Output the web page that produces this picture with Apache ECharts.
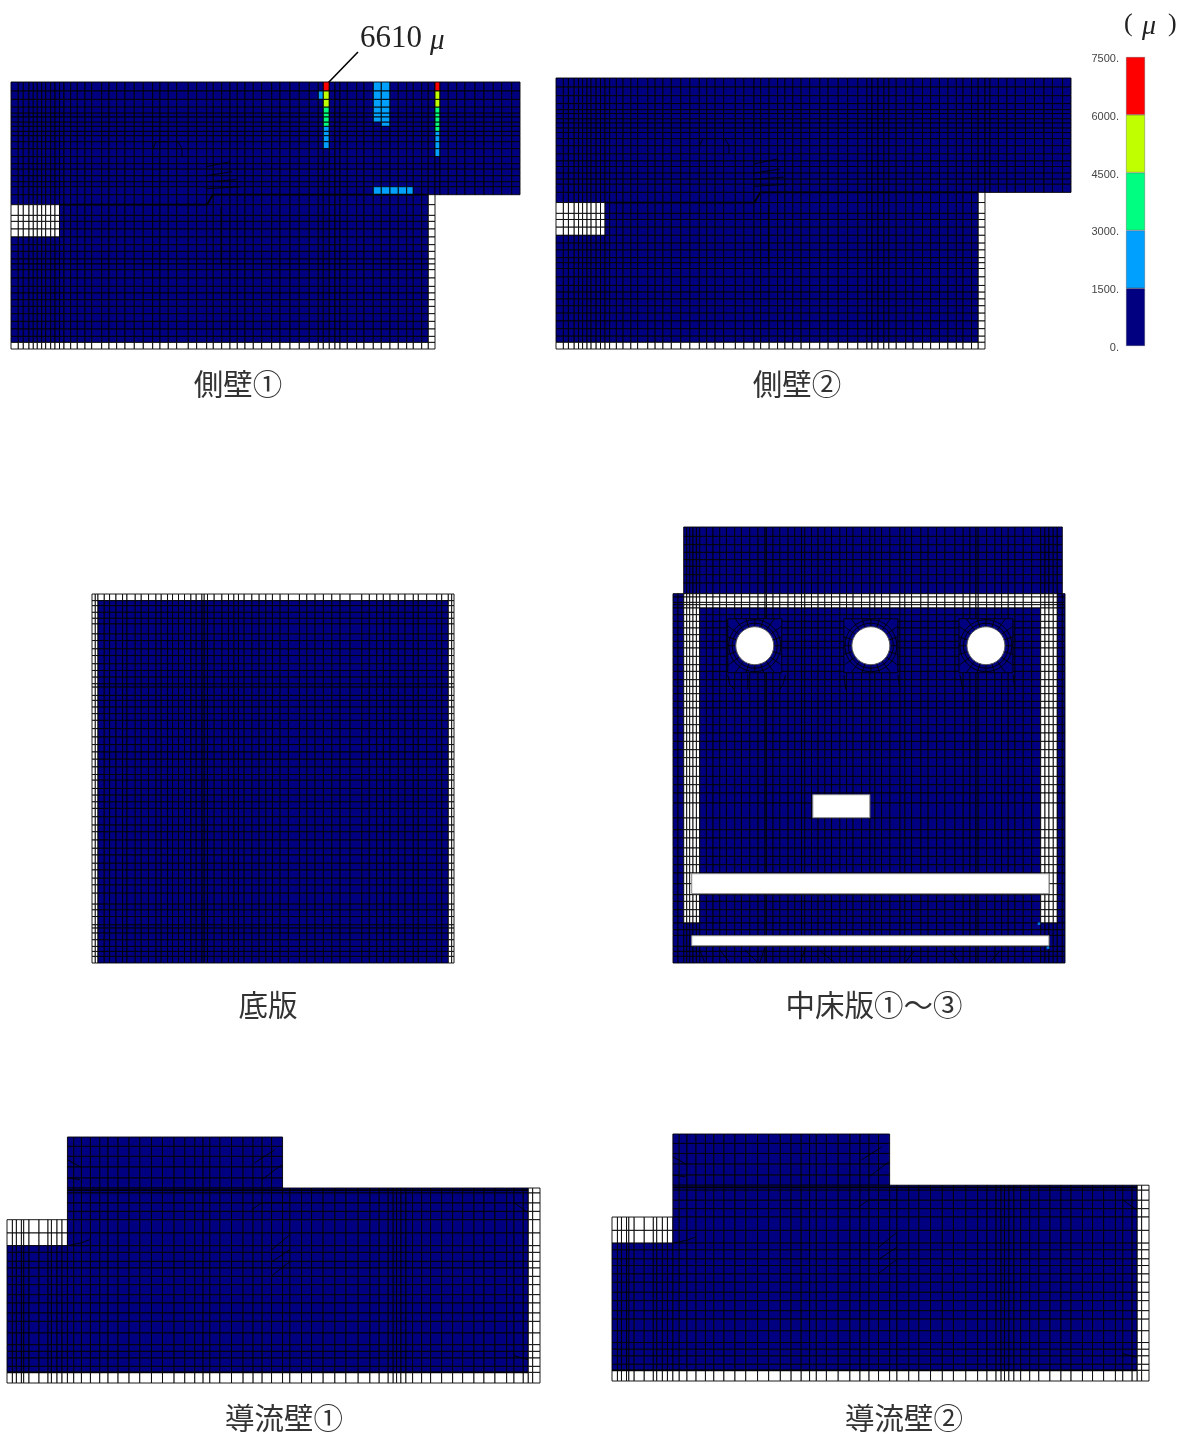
<!DOCTYPE html>
<html>
<head>
<meta charset="utf-8">
<title>strain contour</title>
<style>
html,body{margin:0;padding:0;background:#fff;}
#main{width:1187px;height:1437px;}
</style>
<script src="https://cdn.jsdelivr.net/npm/echarts@6/dist/echarts.min.js"></script>
</head>
<body>
<div id="main"></div>
<script>
// colour bar
var legendTicks=[0,1500,3000,4500,6000,7500];
var legendColors=['#000080','#00a0ff','#00ff80','#c0ff00','#ff0000'];
var whiteCell=-1;

// side walls, mesh lines
var wallXs=[11,18.3,23.3,29,33.3,37.3,41.7,45.7,50.7,55,59.5,64,70.7,77.3,85,91.7,101.7,109,116.7,125,134.3,143.3,152.7,160,168.3,176.7,188.3,196.7,206.7,213.3,221.7,230,237.3,245,253.3,261.7,271.7,280,290,299.3,309.3,318.3,323.3,329.3,335,340,347.3,356.7,364,373.3,381.3,390,398.3,406.7,413.3,421.7,428.3,435,440,448.3,456.7,465,475,484,493.3,501.7,511.7,520];
var wallYs=[82.3,91.3,99.7,107.5,113.5,117.3,122.5,126.7,131.7,136,142,149,157,164,169.5,176,182,187,195,205,215.7,221.7,229.3,237.3,245,251.7,259.3,264.3,270,278.3,286.7,293.3,300,306.7,314,321.7,329.3,336.7,342.7,349.3];
var wallSolid=[[11,82.3,520,195],[11,195,435,349.3]];
var wallWhite=[[11,342.7,435,349.3],[428.3,195,435,349.3],[11,205,59.5,237.3]];
var wallThick=[[[59.5,205],[207,205],[213,195],[428,195]]];
var wallKinks=[[[206.7,167],[230,162]],[[206.7,176],[232,172]],[[206.7,182],[236,180]],[[206.7,189],[240,187]],[[153,149],[156,142],[170,142]],[[178,142],[182,149],[182,157]],[[221,207],[221,265]]];
// [x, y, strain] of the cells that are above the lowest band, wall 1 only
var wall1Hot=[[326,87,6610],[326,95,5500],[326,103,4900],[326,110,4000],[326,115,3800],[326,120,3600],[326,124,3200],[326,129,2800],[326,134,2500],[326,139,2200],[326,145,1800],[320.5,95,1700],
[377,87,2000],[377,95,2000],[377,103,2000],[377,110,1900],[377,115,1800],[377,120,1600],[385,87,2000],[385,95,2000],[385,103,2000],[385,110,1900],[385,115,1800],[385,120,1700],[385,124,1600],
[377,191,1900],[385,191,1900],[394,191,1800],[402,191,1800],[410,191,1600],
[437.5,87,6300],[437.5,95,5200],[437.5,103,4700],[437.5,110,4200],[437.5,115,3900],[437.5,120,3600],[437.5,124,3300],[437.5,129,3100],[437.5,134,2700],[437.5,139,2300],[437.5,145,2000],[437.5,153,1700]];

// bottom slab
var slabXs=[91.7,95,97.7,104,109.3,115.7,122.3,126.7,135,141,148.3,155.7,161,167.3,172.3,178.3,184.3,190.7,196,201.7,204,207.3,214,221.7,228.3,233.7,238.3,244,251.7,259,265.7,272.3,280,288.3,299.3,306.7,315,323.3,331.7,340,350,361.7,369.3,376.7,383.3,390,398.3,405,413.3,418.3,426.7,436.7,441.7,448.3,451.7,454];
var slabYs=[593.3,600,605,611.7,617.7,623.3,633.3,640,648.3,655,663.3,670,676.7,683.3,686.7,695,700,706.7,713.3,720,728.3,736.7,744.3,751.7,759,766.7,774.3,780,788.3,795,801.7,808.3,816.7,825,831.7,840,848.3,855,863.3,870,878.3,885,893.3,904.3,910,916.7,925,928.3,933.3,940,946.7,951.7,956.7,963.3];
var slabSolid=[[91.7,593.3,454,963.3]];
var slabWhite=[[91.7,593.3,454,600],[91.7,593.3,97.7,963.3],[448.3,593.3,454,963.3]];

// intermediate slab
var midXs=[673.3,678.3,684,687,690,693.3,696.7,700,706.7,713.3,720,726.7,735,741.7,750,758.3,765.3,766.7,773.3,780,788.3,795,801.7,805,811.7,818.3,825,831.7,840,846.7,853.3,861.7,870,875,881.7,890,900,905,911.7,921,928.3,936.7,945,955,963.3,970,976,978.3,986.7,995,1001.7,1008.3,1015,1023.3,1031.7,1040.7,1045,1049,1053.3,1057.3,1062.3,1065];
var midYs=[527.3,536.7,545,552.7,560,566.7,575,583.3,594,597.3,602.7,605,608.3,615,621.7,628.3,635,641.7,648.3,656.7,665,671.7,680,686.7,694,701.7,708.3,716.7,725,733.3,741.7,750,758,766.7,776.7,785,793.3,803.3,818.3,830,838.3,848.3,856.7,865,873.3,884,895,901.7,910,916.7,923.3,930,935.7,946.7,951.7,956.7,963.3];
var midSolid=[[684,527.3,1062.3,594],[673.3,594,1065,963.3]];
var midWhite=[[684,594,1057.3,608.3],[684,608.3,700,923.3],[1040.7,608.3,1057.3,923.3]];
var midKinks=[[[728,675],[730,685],[735,690]],[[748,675],[748,690]],[[786,675],[783,685],[780,690]],[[844,675],[846,690]],[[898,675],[900,690]],[[960,675],[963,690]],[[1013,675],[1015,690]],
[[700,950],[705,963]],[[720,950],[730,963]],[[745,950],[758,963]],[[765,948],[760,963]],[[806,948],[800,963]],[[820,951],[835,963]],[[915,951],[905,963]],[[950,951],[960,963]],[[1000,951],[990,963]]];
// round and rectangular openings
var midHoles=[[755,646,19],[871,646,19],[986,646,19]];
var midSlots=[[813,795,870,818],[692,874,1049,894],[692,936,1049,946]];
var midSpecks=[[1039,924,1700],[1048,948,1600]];

// guide walls
var guideXs=[7.3,12.7,16.7,21.7,24,29.3,39.3,48.3,51.7,57.3,62.3,67.7,74,81.7,90.7,100,108.3,118.3,129.3,140,151.7,162.7,174.3,185,195,203.3,210,220,231.7,243.3,253.3,262.3,271.7,282.7,290,301.7,311.7,323.3,335,346,358.3,370,379.3,388.3,393.3,396.7,401,406,412.7,421.7,430.7,441.7,452.7,462.7,474,484,495,506.7,514,523.3,528.3,532.7,540];
var guideYs=[1137.3,1146.7,1156.7,1167.3,1178.3,1188.3,1193.3,1203.3,1211.7,1220,1233.3,1246,1252.7,1261.7,1268.3,1276.7,1285,1295,1303.3,1313.3,1321.7,1333.3,1345,1351.7,1358.3,1366.7,1372.7,1383.3];
var guideSolid=[[67.7,1137.3,282.7,1188.3],[67.7,1188.3,540,1383.3],[7.3,1220,67.7,1383.3]];
var guideWhite=[[7.3,1220,67.7,1246],[7.3,1372.7,540,1383.3],[528.3,1188.3,540,1383.3]];
var guideThick=[[[68,1190.5],[528,1190.5]],[[7.3,1372.7],[528,1372.7]]];
var guideKinks=[[[67.7,1160],[82,1168]],[[67.7,1178],[80,1180]],[[67.7,1246],[82,1243],[90,1240]],[[255,1163],[275,1150]],[[262,1180],[282,1165]],[[252,1210],[262,1203],[290,1203]],[[272,1250],[290,1235]],[[272,1262],[290,1250]],[[272,1276],[290,1262]],[[514,1203],[528,1213]],[[514,1356],[528,1360]]];

var names=['側壁①','側壁②','底版','中床版①～③','導流壁①','導流壁②'];

function inRects(list,x,y){
	for(var i=0;i<list.length;i++){
		var r=list[i];
		if(x>=r[0]&&x<=r[2]&&y>=r[1]&&y<=r[3]) return true;
	}
	return false;
}
/*mesh cells of one panel: [x0,y0,x1,y1,value]*/
function buildCells(xs,ys,solid,white,hot){
	var cells=[];
	for(var i=0;i<xs.length-1;i++){
		for(var j=0;j<ys.length-1;j++){
			var cx=(xs[i]+xs[i+1])/2,cy=(ys[j]+ys[j+1])/2;
			if(!inRects(solid,cx,cy)) continue;
			var v=inRects(white,cx,cy)?whiteCell:0;
			(hot||[]).forEach(function(h){
				if(h[0]>=xs[i]&&h[0]<xs[i+1]&&h[1]>=ys[j]&&h[1]<ys[j+1]) v=h[2];
			});
			cells.push([xs[i],ys[j],xs[i+1],ys[j+1],v]);
		}
	}
	return cells;
}
function bandColor(v){
	if(v<0) return '#fff';
	for(var i=0;i<legendColors.length;i++){
		if(v<legendTicks[i+1]) return legendColors[i];
	}
	return legendColors[legendColors.length-1];
}
function renderCell(params,api){
	var a=api.coord([api.value(0),api.value(1)]);
	var b=api.coord([api.value(2),api.value(3)]);
	return {
		type:'rect',
		shape:{x:a[0],y:a[1],width:b[0]-a[0],height:b[1]-a[1]},
		style:{fill:bandColor(api.value(4)),stroke:'#000',lineWidth:0.9}
	};
}
function renderSlot(params,api){
	var a=api.coord([api.value(0),api.value(1)]);
	var b=api.coord([api.value(2),api.value(3)]);
	return {
		type:'rect',
		shape:{x:a[0],y:a[1],width:b[0]-a[0],height:b[1]-a[1]},
		style:{fill:'#fff',stroke:'#888',lineWidth:1}
	};
}
/*opening with its fan of deformed elements*/
function renderHole(params,api){
	var c=api.coord([api.value(0),api.value(1)]);
	var r=api.value(2),box=r+8,kids=[];
	kids.push({type:'rect',shape:{x:c[0]-box,y:c[1]-box,width:box*2,height:box*2},style:{fill:'#000080',stroke:'#000',lineWidth:0.9}});
	[3.5,7].forEach(function(d){
		kids.push({type:'circle',shape:{cx:c[0],cy:c[1],r:r+d},style:{fill:'none',stroke:'#000',lineWidth:0.9}});
	});
	for(var k=0;k<20;k++){
		var ang=k*Math.PI/10,ca=Math.cos(ang),sa=Math.sin(ang);
		var m=box/Math.max(Math.abs(ca),Math.abs(sa));
		kids.push({type:'line',shape:{x1:c[0]+ca*r,y1:c[1]+sa*r,x2:c[0]+ca*m,y2:c[1]+sa*m},style:{stroke:'#000',lineWidth:0.9}});
	}
	kids.push({type:'circle',shape:{cx:c[0],cy:c[1],r:r},style:{fill:'#fff',stroke:'#555',lineWidth:1}});
	return {type:'group',children:kids};
}
function polySeries(base,id,list,width){
	kinkLists[id]=list;
	return Object.assign({},base,{
		id:id,
		data:list.map(function(k){return k[0];}),
		renderItem:function(params,api){
			var pts=kinkLists[id][params.dataIndex].map(function(p){return api.coord(p);});
			return {type:'polyline',shape:{points:pts},style:{fill:'none',stroke:'#000',lineWidth:width}};
		}
	});
}
var kinkLists={};

var panels=[
	{box:[11,82,509,267],xs:wallXs,ys:wallYs,solid:wallSolid,white:wallWhite,hot:wall1Hot,kinks:wallKinks,thick:wallThick},
	{box:[556,78,515,271],xs:wallXs,ys:wallYs,solid:wallSolid,white:wallWhite,kinks:wallKinks,thick:wallThick},
	{box:[92,594,362,369],xs:slabXs,ys:slabYs,solid:slabSolid,white:slabWhite},
	{box:[673,527,392,436],xs:midXs,ys:midYs,solid:midSolid,white:midWhite,kinks:midKinks,holes:midHoles,slots:midSlots,specks:midSpecks},
	{box:[7,1137,533,246],xs:guideXs,ys:guideYs,solid:guideSolid,white:guideWhite,kinks:guideKinks,thick:guideThick},
	{box:[612,1134,537,247],xs:guideXs,ys:guideYs,solid:guideSolid,white:guideWhite,kinks:guideKinks,thick:guideThick}
];

var grids=[],xAxes=[],yAxes=[],seriesList=[];
panels.forEach(function(p,n){
	grids.push({left:p.box[0],top:p.box[1],width:p.box[2],height:p.box[3]});
	xAxes.push({type:'value',gridIndex:n,show:false,min:p.xs[0],max:p.xs[p.xs.length-1]});
	yAxes.push({type:'value',gridIndex:n,show:false,inverse:true,min:p.ys[0],max:p.ys[p.ys.length-1]});
	var base={type:'custom',xAxisIndex:n,yAxisIndex:n,silent:true,animation:false,clip:false};
	seriesList.push(Object.assign({},base,{name:names[n],renderItem:renderCell,data:buildCells(p.xs,p.ys,p.solid,p.white,p.hot),progressive:0}));
	if(p.kinks) seriesList.push(polySeries(base,'kink'+n,p.kinks,0.9));
	if(p.thick) seriesList.push(polySeries(base,'thick'+n,p.thick,1.7));
	if(p.holes) seriesList.push(Object.assign({},base,{renderItem:renderHole,data:p.holes}));
	if(p.slots) seriesList.push(Object.assign({},base,{renderItem:renderSlot,data:p.slots}));
	if(p.specks){
		seriesList.push({type:'scatter',xAxisIndex:n,yAxisIndex:n,silent:true,animation:false,symbol:'rect',symbolSize:2.5,
			data:p.specks,itemStyle:{color:function(d){return bandColor(d.value[2]);}}});
	}
});

// colour bar as a stacked bar on its own strain axis
var barGrid=panels.length;
grids.push({left:1126,top:57,width:19,height:289});
xAxes.push({type:'category',gridIndex:barGrid,show:false,data:['strain']});
yAxes.push({type:'value',gridIndex:barGrid,min:0,max:7500,interval:1500,
	axisLine:{show:false},axisTick:{show:false},splitLine:{show:false},
	axisLabel:{color:'#444',fontSize:11,margin:7,fontFamily:'Liberation Sans',verticalAlign:'top',lineHeight:4,formatter:function(v){return v+'.';}}
});
legendColors.forEach(function(c,i){
	seriesList.push({type:'bar',xAxisIndex:barGrid,yAxisIndex:barGrid,stack:'strain',barWidth:'100%',silent:true,animation:false,
		data:[legendTicks[i+1]-legendTicks[i]],itemStyle:{color:c,borderColor:'rgba(70,70,70,.6)',borderWidth:0.6}});
});

function caption(text,x,y){
	return {type:'text',x:x,y:y,silent:true,style:{text:text,fill:'#333',font:'29.5px "Noto Sans CJK JP"',textAlign:'center',textVerticalAlign:'middle'}};
}
var graphics=[
	caption(names[0],238,384),caption(names[1],797,384),caption(names[2],268,1005),
	caption(names[3],874,1005),caption(names[4],284,1418),caption(names[5],904,1418),
	{type:'line',silent:true,shape:{x1:358,y1:52,x2:327,y2:84},style:{stroke:'#000',lineWidth:1.6}},
	{type:'text',x:360,y:39,silent:true,style:{text:'6610',fill:'#222',font:'31px "Liberation Serif"',textVerticalAlign:'middle'}},
	{type:'text',x:430,y:41,silent:true,style:{text:'μ',fill:'#222',font:'italic 29px "Liberation Serif"',textVerticalAlign:'middle'}},
	{type:'text',x:1124,y:24,silent:true,style:{text:'(',fill:'#222',font:'26px "Liberation Serif"',textVerticalAlign:'middle'}},
	{type:'text',x:1142,y:27,silent:true,style:{text:'μ',fill:'#222',font:'italic 28px "Liberation Serif"',textVerticalAlign:'middle'}},
	{type:'text',x:1168,y:24,silent:true,style:{text:')',fill:'#222',font:'26px "Liberation Serif"',textVerticalAlign:'middle'}}
];

var myChart=echarts.init(document.getElementById('main'));
myChart.setOption({
	animation:false,
	backgroundColor:'#fff',
	grid:grids,
	xAxis:xAxes,
	yAxis:yAxes,
	series:seriesList,
	graphic:graphics
});
</script>
</body>
</html>
